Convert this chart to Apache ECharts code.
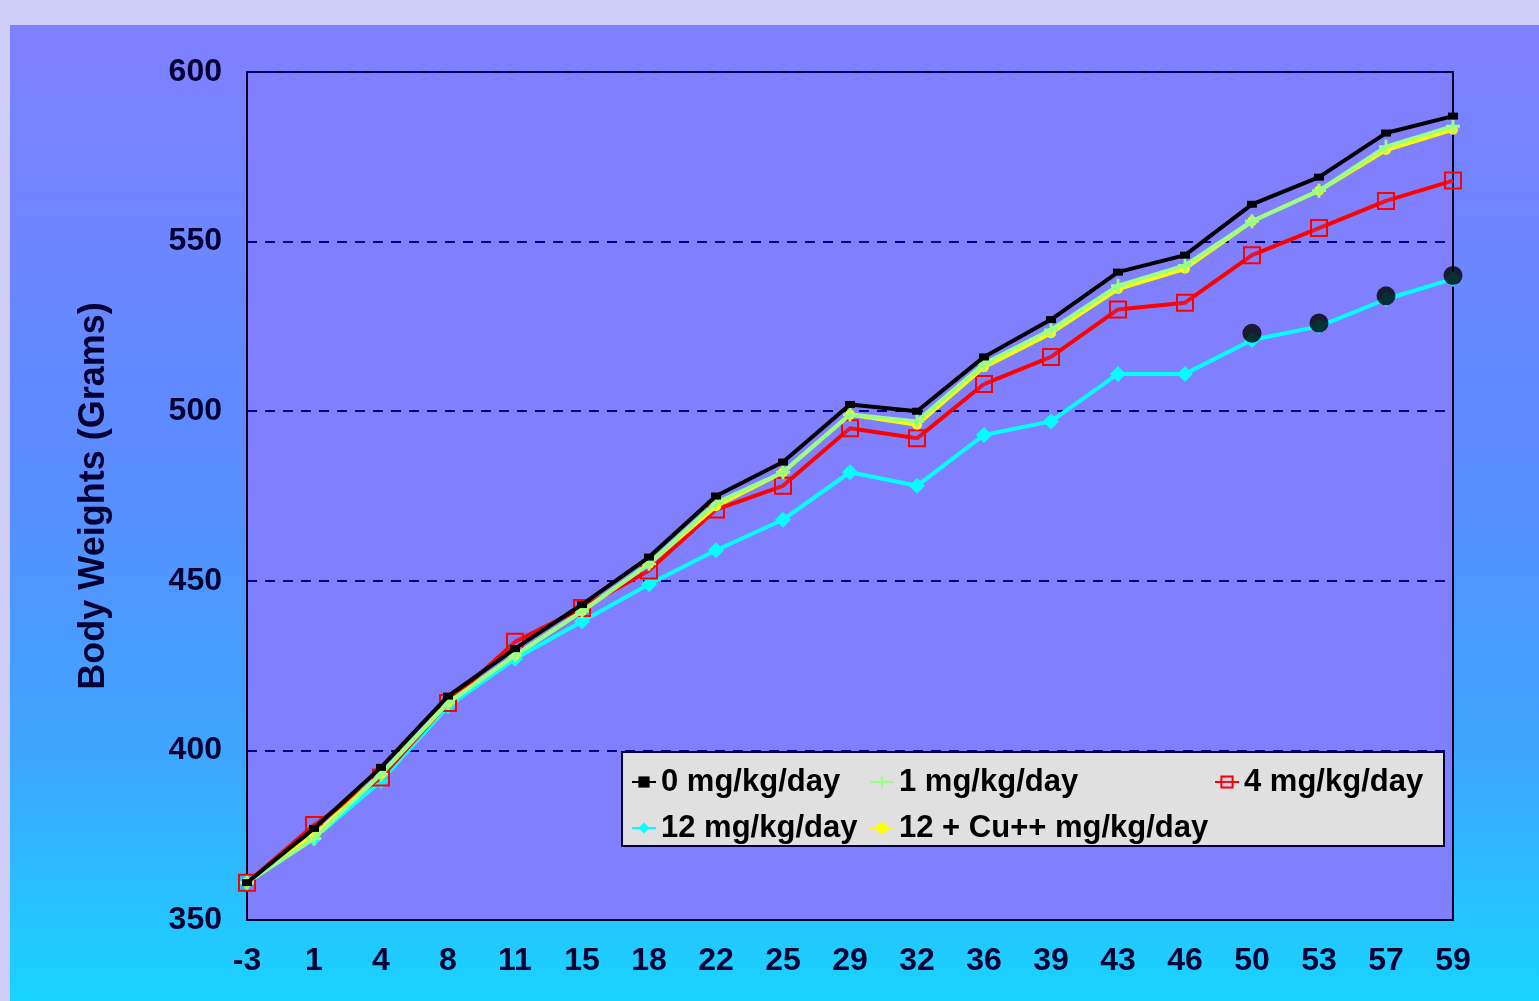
<!DOCTYPE html>
<html>
<head>
<meta charset="utf-8">
<script src="https://cdn.jsdelivr.net/npm/echarts@6/dist/echarts.min.js"></script>
<style>
  html, body { margin: 0; padding: 0; width: 1539px; height: 1001px; overflow: hidden; background: #cdcdf8; }
  #panel { position: absolute; left: 10px; top: 25px; width: 1529px; height: 976px;
           background: linear-gradient(to bottom, #8080ff 0%, #5a8cff 45%, #3ea6ff 75%, #18d4ff 100%); }
  #chart { position: absolute; left: 0; top: 0; width: 1539px; height: 1001px; }
</style>
</head>
<body>
<div id="panel"></div>
<div id="chart"></div>
<script>
const days = ['-3','1','4','8','11','15','18','22','25','29','32','36','39','43','46','50','53','57','59'];
const dose0  = [361,377,395,416,430,443,457,475,485,502,500,516,527,541,546,561,569,582,587];
const dose1  = [361,374,393,414,428,441,455,473,482,499,497,514,524,537,543,556,565,578,584];
const dose4  = [361,378,392,414,432,442,453,471,478,495,492,508,516,530,532,546,554,562,568];
const dose12 = [361,374,391,413,427,438,449,459,468,482,478,493,497,511,511,521,525,533,539];
const doseCu = [361,375,393,414,428,441,455,472,482,499,496,513,523,536,542,556,565,577,583];
const sigDots = ['-','-','-','-','-','-','-','-','-','-','-','-','-','-','-',523,526,534,540];
const yTicks = { min: 350, max: 600, step: 50 };
const names = ['0 mg/kg/day','1 mg/kg/day','4 mg/kg/day','12 mg/kg/day','12 + Cu++ mg/kg/day'];

const chart = echarts.init(document.getElementById('chart'), null, { renderer: 'canvas' });
const lblFont = { fontFamily: 'Liberation Sans, Arial, sans-serif', fontWeight: 'bold' };
const legendText = Object.assign({ fontSize: 31, color: '#000000', lineHeight: 32 }, lblFont);
const plusPath = 'path://M4,0H6V4H10V6H6V10H4V6H0V4H4Z';

function legendAt(left, data) {
  return {
    orient: 'vertical', left: left, top: 766, itemGap: 14,
    itemWidth: 24, itemHeight: 14, padding: 0,
    textStyle: legendText, data: data, selectedMode: true
  };
}

chart.setOption({
  animation: false,
  backgroundColor: 'transparent',
  grid: { left: 247, right: 86, top: 72, bottom: 81, show: true, backgroundColor: '#8080ff',
          borderColor: '#00002a', borderWidth: 2, outerBoundsMode: 'none', containLabel: false },
  graphic: [{
    type: 'rect', z: 3, shape: { x: 622, y: 752, width: 822, height: 94 },
    style: { fill: '#e0e0e0', stroke: '#00003a', lineWidth: 2 }
  }],
  legend: [
    legendAt(631, [names[0], names[3]]),
    legendAt(869, [names[1], names[4]]),
    legendAt(1214, [names[2]])
  ],
  xAxis: {
    type: 'category', data: days, boundaryGap: false,
    axisLine: { lineStyle: { color: '#00002a', width: 2 } },
    axisTick: { show: false },
    axisLabel: Object.assign({ fontSize: 32, color: '#000033', margin: 25 }, lblFont),
    splitLine: { show: false }
  },
  yAxis: {
    type: 'value', min: yTicks.min, max: yTicks.max, interval: yTicks.step,
    name: 'Body Weights (Grams)', nameLocation: 'middle', nameGap: 135, nameRotate: 90,
    nameTextStyle: Object.assign({ fontSize: 36, color: '#000033' }, lblFont),
    axisLine: { show: true, lineStyle: { color: '#00002a', width: 2 } },
    axisTick: { show: false },
    axisLabel: Object.assign({ fontSize: 32, color: '#000033', margin: 25 }, lblFont),
    splitLine: { show: true, lineStyle: { color: '#000080', width: 2, type: [10, 8] } }
  },
  series: [
    { name: names[3], type: 'line', data: dose12, z: 2,
      lineStyle: { color: '#00ffff', width: 4 }, itemStyle: { color: '#00ffff' },
      symbol: 'diamond', symbolSize: 16, showSymbol: true },
    { name: names[2], type: 'line', data: dose4, z: 3,
      lineStyle: { color: '#ff0000', width: 4 },
      itemStyle: { color: 'rgba(128,128,255,0.15)', borderColor: '#ff0000', borderWidth: 2 },
      symbol: 'rect', symbolSize: 16, showSymbol: true },
    { name: names[4], type: 'line', data: doseCu, z: 4,
      lineStyle: { color: '#ffff00', width: 4 }, itemStyle: { color: '#ffff00' },
      symbol: 'circle', symbolSize: 10, showSymbol: true },
    { name: names[1], type: 'line', data: dose1, z: 5,
      lineStyle: { color: '#99ff88', width: 4 }, itemStyle: { color: '#99ff88' },
      symbol: plusPath, symbolSize: 14, showSymbol: true },
    { name: names[0], type: 'line', data: dose0, z: 6,
      lineStyle: { color: '#000000', width: 4 }, itemStyle: { color: '#000000' },
      symbol: 'rect', symbolSize: [10, 7], showSymbol: true },
    { name: 'sig', type: 'scatter', data: sigDots, z: 7,
      itemStyle: { color: '#000000' }, symbol: 'circle', symbolSize: 19 }
  ]
});
</script>
</body>
</html>
